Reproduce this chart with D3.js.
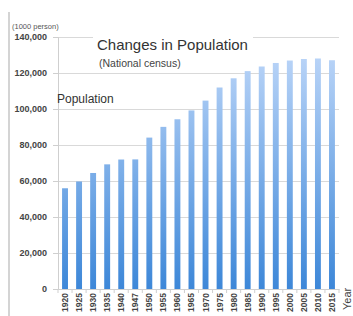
<!DOCTYPE html>
<html><head><meta charset="utf-8">
<script src="https://cdn.jsdelivr.net/npm/d3@7"></script>
<style>body{margin:0;background:#fff}svg{display:block}</style>
</head><body>
<svg id="c" width="353" height="316"></svg>
<script>
const years = ["1920","1925","1930","1935","1940","1947","1950","1955","1960","1965","1970","1975","1980","1985","1990","1995","2000","2005","2010","2015"];
const population = [55963,59737,64450,69254,71933,72000,84115,90077,94302,99209,104665,111940,117060,121049,123611,125570,126926,127768,128057,127095];
const yTicks = [0,20000,40000,60000,80000,100000,120000,140000];

(function(){
const svg = d3.select("#c");
const pL = 58, pR = 339, pT = 37, pB = 289;
const x = d3.scaleBand().domain(years).range([pL, pR]).paddingInner(0.58).paddingOuter(0.29);
const y = d3.scaleLinear().domain([0,140000]).range([pB, pT]);

const defs = svg.append("defs");
const g = defs.append("linearGradient").attr("id","bg").attr("gradientUnits","userSpaceOnUse")
  .attr("x1",0).attr("y1",pT).attr("x2",0).attr("y2",pB);
g.append("stop").attr("offset","0%").attr("stop-color","#c3dafa");
g.append("stop").attr("offset","100%").attr("stop-color","#3d87d8");

svg.append("line").attr("x1",9).attr("x2",9).attr("y1",12).attr("y2",316).attr("stroke","#d4d4d4").attr("stroke-width",2);

svg.append("g").selectAll("line").data(yTicks.filter(d=>d>0)).join("line")
  .attr("x1",pL).attr("x2",pR).attr("y1",d=>y(d)+0.5).attr("y2",d=>y(d)+0.5)
  .attr("stroke","#d9d9d9").attr("stroke-width",1);

const ya = svg.append("g").attr("transform",`translate(${pL},0)`)
  .call(d3.axisLeft(y).tickValues(yTicks).tickFormat(d3.format(",")).tickSize(5).tickPadding(6));
ya.select(".domain").attr("stroke","#cfcfcf");
ya.selectAll(".tick line").attr("stroke","#cfcfcf");
ya.selectAll("text").attr("font-family","Liberation Sans, Arial, sans-serif").attr("font-size","9px").attr("font-weight","bold").attr("fill","#444");

svg.append("g").selectAll("rect").data(population).join("rect")
  .attr("x",(d,i)=>x(years[i])).attr("width",x.bandwidth())
  .attr("y",d=>y(d)).attr("height",d=>pB-y(d))
  .attr("fill","url(#bg)");

const xa = svg.append("g").attr("transform",`translate(0,${pB})`)
  .call(d3.axisBottom(x).tickSize(0).tickPadding(4));
xa.select(".domain").attr("stroke","#cfcfcf");
xa.selectAll("text").attr("font-family","Liberation Sans, Arial, sans-serif").attr("font-size","8.5px").attr("font-weight","bold").attr("fill","#444")
  .attr("transform","rotate(-90)").attr("text-anchor","end").attr("dx","-4").attr("dy","0.35em").attr("y",0).attr("x",0);
const step = x.step();
svg.append("g").selectAll("line").data(d3.range(years.length+1)).join("line")
  .attr("x1",i=>x(years[0]) - (step - x.bandwidth())/2 + i*step)
  .attr("x2",i=>x(years[0]) - (step - x.bandwidth())/2 + i*step)
  .attr("y1",pB).attr("y2",pB+4).attr("stroke","#cfcfcf");

svg.append("rect").attr("x",93).attr("y",28).attr("width",160).attr("height",14).attr("fill","#fff");

const font = "Helvetica, Liberation Sans, Arial, sans-serif";
svg.append("text").attr("x",12).attr("y",29).text("(1000 person)")
  .attr("font-family",font).attr("font-size","7.5px").attr("fill","#555");
svg.append("text").attr("x",97).attr("y",50).text("Changes in Population")
  .attr("font-family",font).attr("font-size","15px").attr("fill","#333");
svg.append("text").attr("x",99).attr("y",67).text("(National census)")
  .attr("font-family",font).attr("font-size","10.5px").attr("fill","#444");
svg.append("text").attr("x",57).attr("y",103).text("Population")
  .attr("font-family",font).attr("font-size","12px").attr("fill","#333");
svg.append("text").attr("transform","translate(351,310) rotate(-90)").text("Year")
  .attr("font-family",font).attr("font-size","11px").attr("fill","#444");
})();
</script>
</body></html>
